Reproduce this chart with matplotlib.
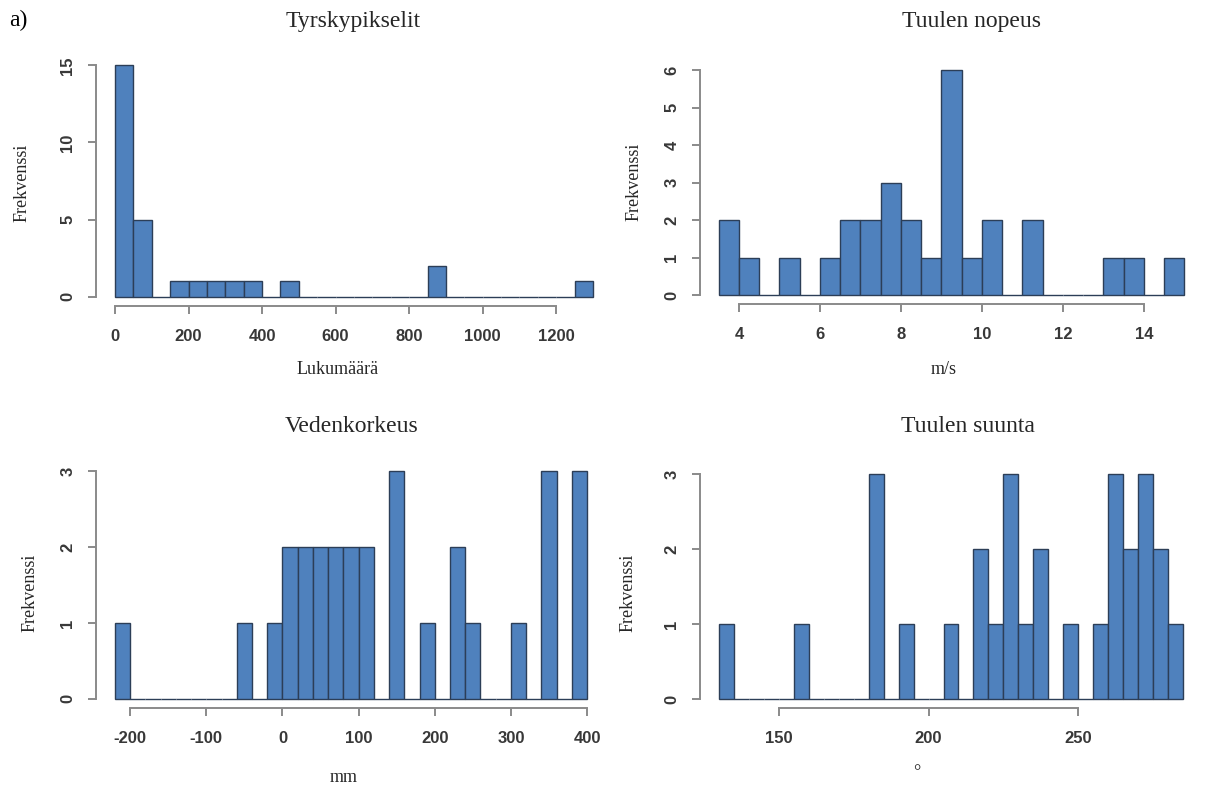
"""Four R-style histograms: storm pixels, wind speed, water level, wind direction."""

import matplotlib

matplotlib.use("Agg")
import matplotlib.pyplot as plt  # noqa: E402
import numpy as np  # noqa: E402

plt.rcParams["axes.unicode_minus"] = False

W, H = 1210, 789

# --- data: bin start, bin width, counts per bin ---
tyrsky_start, tyrsky_width = 0, 50
tyrsky_counts = [15, 5, 0, 1, 1, 1, 1, 1, 0, 1, 0, 0, 0,
                 0, 0, 0, 0, 2, 0, 0, 0, 0, 0, 0, 0, 1]

nopeus_start, nopeus_width = 3.5, 0.5
nopeus_counts = [2, 1, 0, 1, 0, 1, 2, 2, 3, 2, 1, 6, 1,
                 2, 0, 2, 0, 0, 0, 1, 1, 0, 1]

vesi_start, vesi_width = -220, 20
vesi_counts = [1, 0, 0, 0, 0, 0, 0, 0, 1, 0, 1, 2, 2, 2, 2, 2, 2,
               0, 3, 0, 1, 0, 2, 1, 0, 0, 1, 0, 3, 0, 3]

suunta_start, suunta_width = 130, 5
suunta_counts = [1, 0, 0, 0, 0, 1, 0, 0, 0, 0, 3, 0, 1, 0, 0, 1,
                 0, 2, 1, 3, 1, 2, 0, 1, 0, 1, 3, 2, 3, 2, 1]

titles = ["Tyrskypikselit", "Tuulen nopeus", "Vedenkorkeus", "Tuulen suunta"]
xlabels = ["Lukumäärä", "m/s", "mm", "°"]
xticks = [[0, 200, 400, 600, 800, 1000, 1200],
          [4, 6, 8, 10, 12, 14],
          [-200, -100, 0, 100, 200, 300, 400],
          [150, 200, 250]]
yticks = [[0, 5, 10, 15], [0, 1, 2, 3, 4, 5, 6], [0, 1, 2, 3], [0, 1, 2, 3]]

panels = [(tyrsky_start, tyrsky_width, tyrsky_counts),
          (nopeus_start, nopeus_width, nopeus_counts),
          (vesi_start, vesi_width, vesi_counts),
          (suunta_start, suunta_width, suunta_counts)]

# plot regions in pixels: left, top, right, bottom
boxes = [(96, 56, 612, 306), (700, 61, 1203, 304),
         (96, 462, 606, 708), (700, 465, 1202, 708)]
# text anchors in pixels
title_xy = [(353, 22), (972, 22), (352, 427), (968, 427)]
xlab_xy = [(338, 370), (944, 370), (344, 778), (917, 773)]
ylab_xy = [(22, 183), (634, 182), (30, 593), (628, 593)]

FILL = "#4f81bd"
EDGE = "#2c3e57"
AXIS = "#8a8a8a"
TXT = "#262626"
SERIF = "Liberation Serif"
SANS = "Liberation Sans"

fig = plt.figure(figsize=(W / 100, H / 100), dpi=100)

for i, (start, width, counts) in enumerate(panels):
    l, t, r, b = boxes[i]
    ax = fig.add_axes([l / W, 1 - b / H, (r - l) / W, (b - t) / H])
    counts = np.array(counts)
    lefts = start + width * np.arange(len(counts))
    ax.bar(lefts, counts, width=width, align="edge", color=FILL,
           edgecolor=EDGE, linewidth=1.0)
    lo, hi = lefts[0], lefts[-1] + width
    span = hi - lo
    ax.set_xlim(lo - 0.04 * span, hi + 0.04 * span)
    ymax = counts.max()
    ax.set_ylim(-0.04 * ymax, 1.04 * ymax)

    for side in ("top", "right"):
        ax.spines[side].set_visible(False)
    for side in ("left", "bottom"):
        ax.spines[side].set_color(AXIS)
        ax.spines[side].set_linewidth(1.4)
    ax.spines["bottom"].set_bounds(xticks[i][0], xticks[i][-1])
    ax.spines["left"].set_bounds(yticks[i][0], yticks[i][-1])

    ax.set_xticks(xticks[i])
    ax.set_yticks(yticks[i])
    ax.tick_params(axis="both", direction="out", length=5.8, width=1.4,
                   color=AXIS, labelcolor="#383838", labelsize=12)
    ax.tick_params(axis="x", pad=11)
    ax.tick_params(axis="y", pad=9, labelrotation=90)
    for lab in ax.get_xticklabels() + ax.get_yticklabels():
        lab.set_family(SANS)
        lab.set_fontweight("bold")
    for lab in ax.get_yticklabels():
        lab.set_verticalalignment("center")

    tx, ty = title_xy[i]
    fig.text(tx / W, 1 - ty / H, titles[i], family=SERIF, fontsize=17,
             color=TXT, ha="center", va="center")
    lx, ly = xlab_xy[i]
    fig.text(lx / W, 1 - ly / H, xlabels[i], family=SERIF, fontsize=13,
             color=TXT, ha="center", va="center")
    yx, yy = ylab_xy[i]
    fig.text(yx / W, 1 - yy / H, "Frekvenssi", family=SERIF, fontsize=13,
             color=TXT, ha="center", va="center", rotation=90)

fig.text(9 / W, 1 - 20 / H, "a)", family=SERIF, fontsize=17, color="black",
         ha="left", va="center")

fig.savefig("out.png", dpi=100)
